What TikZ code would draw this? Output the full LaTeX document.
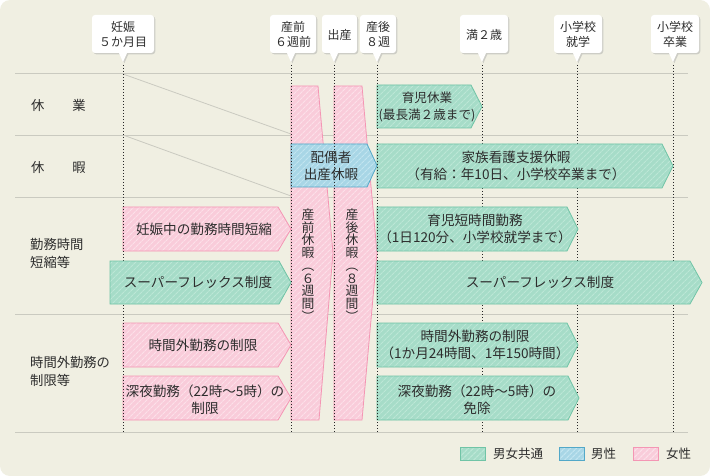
\documentclass[tikz,border=0pt]{standalone}
\usepackage{fontspec}
\setmainfont{Noto Sans CJK JP}
\usetikzlibrary{patterns.meta}
\definecolor{bg}{RGB}{240,239,226}
\definecolor{gridc}{RGB}{202,202,192}
\definecolor{gfill}{RGB}{166,220,200}
\definecolor{gstripe}{RGB}{188,231,214}
\definecolor{gline}{RGB}{112,196,166}
\definecolor{pfill}{RGB}{249,204,218}
\definecolor{pstripe}{RGB}{252,224,233}
\definecolor{pline}{RGB}{244,150,180}
\definecolor{bfill}{RGB}{168,214,230}
\definecolor{bstripe}{RGB}{194,229,240}
\definecolor{bline}{RGB}{82,168,200}
\definecolor{txt}{RGB}{45,45,45}
\definecolor{shad}{RGB}{205,205,198}
\tikzset{
  hatchg/.style={preaction={fill=gfill}, preaction={pattern={Lines[angle=45,distance=4pt,line width=1.2pt]}, pattern color=gstripe}, draw=gline, line width=0.8pt},
  hatchp/.style={preaction={fill=pfill}, preaction={pattern={Lines[angle=45,distance=4pt,line width=1.2pt]}, pattern color=pstripe}, draw=pline, line width=0.8pt},
  hatchb/.style={preaction={fill=bfill}, preaction={pattern={Lines[angle=45,distance=4pt,line width=1.2pt]}, pattern color=bstripe}, draw=bline, line width=0.8pt},
  lbl/.style={text=txt, font=\fontsize{13.6}{17}\selectfont, align=center, inner sep=0pt},
  rowlbl/.style={text=txt, font=\fontsize{13.3}{18}\selectfont, align=left, inner sep=0pt, anchor=west},
  ctext/.style={text=txt, font=\fontsize{12}{15.5}\selectfont, align=center, inner sep=0pt},
  vtext/.style={text=txt, font=\fontsize{12.8}{12.7}\selectfont, align=center, inner sep=0pt},
  legtext/.style={text=txt, font=\fontsize{12.5}{15}\selectfont, inner sep=0pt, anchor=west},
  dotline/.style={draw=black!85, line width=0.9pt, dash pattern=on 1pt off 2pt},
  gridline/.style={draw=gridc, line width=0.8pt}
}
\newcommand\penta[6]{%
  \path[#1] (#2,#4) -- ({#3-#6},#4) -- (#3,{(#4+#5)/2}) -- ({#3-#6},#5) -- (#2,#5) -- cycle;}
\newcommand\callout[5]{%
  \fill[shad, rounded corners=3pt, shift={(1.3,1.3)}] (#1,15) rectangle (#2,53);
  \fill[shad, shift={(1.3,1.3)}] ({#3-4.5},52) -- (#3,62) -- ({#3+4.5},52) -- cycle;
  \fill[white, rounded corners=3pt] (#1,15) rectangle (#2,53);
  \fill[white] ({#3-4.5},52) -- (#3,62) -- ({#3+4.5},52) -- cycle;
  \node[ctext] (#4) at ({(#1+#2)/2},34.5) {#5};}
\begin{document}
\begin{tikzpicture}[x=1pt,y=-1pt]
\useasboundingbox (0,0) rectangle (710,476);
\fill[white] (0,0) rectangle (710,476);
\fill[bg, rounded corners=10pt] (0,0) rectangle (710,476);

% grid lines
\foreach \yy in {73,135,197,314,432}
  \draw[gridline] (15,\yy) -- (688,\yy);
\draw[gridline] (123,74) -- (291,134);
\draw[gridline] (123,135) -- (291,196);

% dotted lines underneath boxes
\foreach \xx in {482,577,673}
  \draw[dotline] (\xx,65) -- (\xx,432);

% callouts
\callout{92}{154}{123}{c1}{妊娠\\５か月目}
\callout{270}{316}{291}{c2}{産前\\６週前}
\callout{322}{357}{334}{c3}{出産}
\callout{360}{396}{377}{c4}{産後\\８週}
\callout{460}{508}{482}{c5}{満２歳}
\callout{554}{602}{577}{c6}{小学校\\就学}
\callout{651}{699}{673}{c7}{小学校\\卒業}

% row labels
\node[rowlbl] (r1) at (31,105) {休\hspace{28pt}業};
\node[rowlbl] (r2) at (31,167) {休\hspace{28pt}暇};
\node[rowlbl] (r3) at (30,253) {勤務時間\\短縮等};
\node[rowlbl] (r4) at (30,371) {時間外勤務の\\制限等};

% pink columns
\path[hatchp] (291,86) -- (318,86) -- (333,253) -- (319,420) -- (291,420) -- cycle;
\path[hatchp] (334,86) -- (362,86) -- (377,253) -- (362,420) -- (334,420) -- cycle;
\node[vtext] (v1) at (308,265) {産\\前\\休\\暇\\︵\\６\\週\\間\\︶};
\node[vtext] (v2) at (352,265) {産\\後\\休\\暇\\︵\\８\\週\\間\\︶};

% green boxes (right)
\penta{hatchg}{377}{482}{85}{128}{11}
\node[lbl, font=\fontsize{12.6}{17}\selectfont] (g1) at (427,106.5) {育児休業\\(最長満２歳まで)};
\penta{hatchg}{377}{673}{144}{188}{11}
\node[lbl] (g2) at (516,166) {家族看護支援休暇\\（有給：年10日、小学校卒業まで）};
\penta{hatchg}{377}{578}{207}{251}{11}
\node[lbl] (g3) at (475,229) {育児短時間勤務\\（1日120分、小学校就学まで）};
\penta{hatchg}{377}{702}{261}{304}{12}
\node[lbl] (g4) at (540,282.5) {スーパーフレックス制度};
\penta{hatchg}{377}{578}{323}{367}{11}
\node[lbl] (g5) at (475,345) {時間外勤務の制限\\（1か月24時間、1年150時間）};
\penta{hatchg}{377}{579}{376}{420}{11}
\node[lbl] (g6) at (477,399.5) {深夜勤務（22時～5時）の\\免除};

% pink boxes (left)
\penta{hatchp}{123}{291}{207}{251}{13}
\node[lbl] (p1) at (204,229) {妊娠中の勤務時間短縮};
\penta{hatchp}{123}{291}{323}{367}{13}
\node[lbl] (p2) at (203,345) {時間外勤務の制限};
\penta{hatchp}{123}{291}{376}{420}{13}
\node[lbl] (p3) at (205,399.5) {深夜勤務（22時～5時）の\\制限};

% blue box
\penta{hatchb}{291}{377}{144}{187}{10}
\node[lbl] (b1) at (331,165.5) {配偶者\\出産休暇};

% dotted lines on top
\draw[dotline] (123,65) -- (123,432);
\foreach \xx in {291,334,377}
  \draw[dotline] (\xx,65) -- (\xx,432);

% super flex left (covers dotted line at 123)
\penta{hatchg}{110}{291}{261}{304}{12}
\node[lbl] (g7) at (198,282.5) {スーパーフレックス制度};

% legend
\path[hatchg] (460,447) rectangle (485,460);
\node[legtext] (l1) at (493,453.5) {男女共通};
\path[hatchb] (559,447) rectangle (584,460);
\node[legtext] (l2) at (591,453.5) {男性};
\path[hatchp] (633,447) rectangle (658,460);
\node[legtext] (l3) at (666,453.5) {女性};
\end{tikzpicture}
\end{document}
